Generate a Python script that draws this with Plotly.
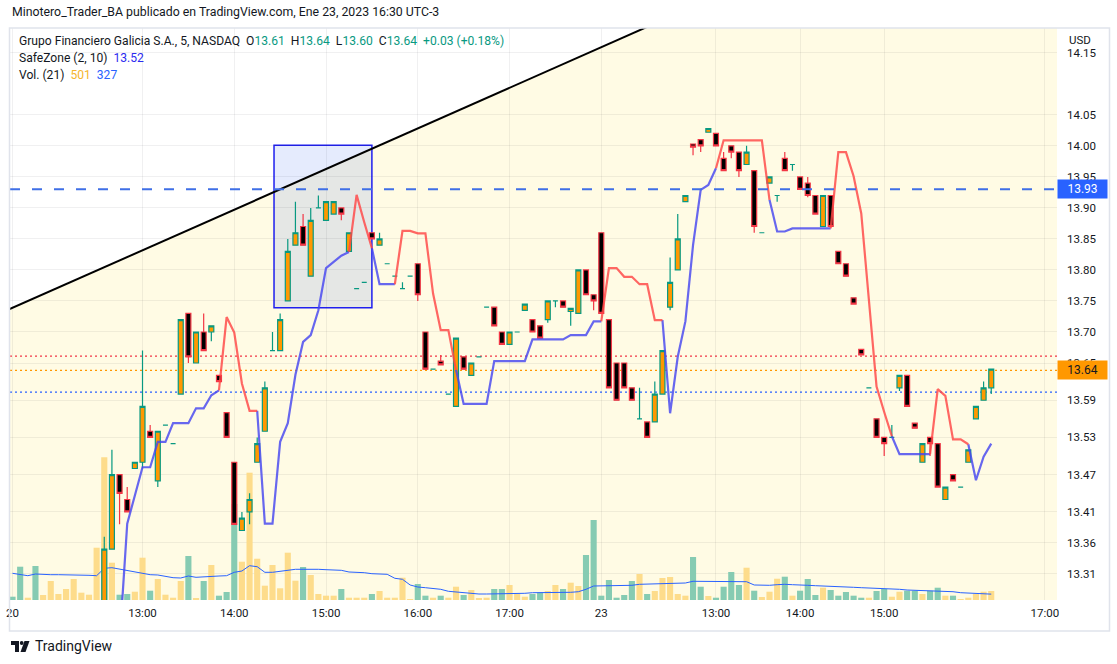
import plotly.graph_objects as go

# ---------------- data ----------------
bar_index = list(range(129))

opens = [13.20, 13.18, 13.15, 13.16, 13.13, 13.14, 13.16, 13.17, 13.18, 13.20,
         13.21, 13.21, 13.23, 13.35, 13.47, 13.43, 13.48, 13.49, 13.54, 13.46,
         13.55, 13.52, 13.60, 13.73, 13.65, 13.70, 13.70, 13.63, 13.57, 13.49,
         13.38, 13.41, 13.49, 13.54, 13.67, 13.67, 13.75, 13.84, 13.87, 13.79,
         13.90, 13.88, 13.89, 13.90, 13.83, 13.77, 13.78, 13.86, 13.84, 13.81,
         13.79, 13.77, 13.79, 13.81, 13.70, 13.64, 13.653, 13.60, 13.58, 13.66,
         13.63, 13.66, 13.74, 13.74, 13.70, 13.68, 13.70, 13.735, 13.72, 13.71,
         13.72, 13.75, 13.75, 13.733, 13.73, 13.80, 13.76, 13.86, 13.72, 13.65,
         13.65, 13.61, 13.56, 13.555, 13.555, 13.60, 13.74, 13.80, 13.91, 14.003,
         14.01, 14.022, 14.02, 13.98, 14.00, 13.99, 13.97, 13.96, 13.86, 13.94,
         13.92, 13.98, 13.97, 13.95, 13.94, 13.92, 13.87, 13.92, 13.83, 13.81,
         13.755, 13.672, 13.61, 13.56, 13.53, 13.53, 13.61, 13.63, 13.553, 13.49,
         13.53, 13.52, 13.43, 13.47, 13.45, 13.49, 13.56, 13.59, 13.61]
highs = [13.21, 13.19, 13.16, 13.16, 13.14, 13.17, 13.17, 13.18, 13.21, 13.21,
         13.21, 13.24, 13.37, 13.51, 13.47, 13.45, 13.49, 13.67, 13.55, 13.54,
         13.55, 13.52, 13.72, 13.73, 13.70, 13.73, 13.71, 13.63, 13.57, 13.49,
         13.41, 13.44, 13.53, 13.62, 13.70, 13.73, 13.85, 13.91, 13.89, 13.90,
         13.92, 13.91, 13.91, 13.90, 13.86, 13.77, 13.78, 13.86, 13.86, 13.81,
         13.79, 13.78, 13.79, 13.81, 13.70, 13.64, 13.663, 13.60, 13.69, 13.66,
         13.65, 13.66, 13.74, 13.74, 13.70, 13.70, 13.70, 13.745, 13.72, 13.71,
         13.75, 13.75, 13.75, 13.738, 13.80, 13.80, 13.76, 13.86, 13.72, 13.65,
         13.65, 13.61, 13.61, 13.555, 13.62, 13.67, 13.82, 13.89, 13.92, 14.003,
         14.01, 14.028, 14.02, 13.99, 14.00, 13.99, 14.00, 13.96, 13.86, 13.95,
         13.92, 13.99, 13.97, 13.95, 13.95, 13.92, 13.92, 13.92, 13.83, 13.81,
         13.755, 13.672, 13.61, 13.56, 13.53, 13.55, 13.63, 13.63, 13.553, 13.52,
         13.53, 13.52, 13.45, 13.47, 13.45, 13.51, 13.58, 13.62, 13.64]
lows = [13.17, 13.14, 13.15, 13.12, 13.13, 13.14, 13.16, 13.16, 13.18, 13.20,
        13.20, 13.20, 13.22, 13.35, 13.39, 13.41, 13.48, 13.48, 13.53, 13.45,
        13.55, 13.52, 13.60, 13.65, 13.65, 13.67, 13.685, 13.62, 13.53, 13.39,
        13.38, 13.39, 13.49, 13.54, 13.67, 13.67, 13.75, 13.84, 13.84, 13.79,
        13.90, 13.88, 13.89, 13.88, 13.83, 13.77, 13.78, 13.85, 13.84, 13.81,
        13.79, 13.77, 13.79, 13.75, 13.64, 13.64, 13.647, 13.60, 13.58, 13.64,
        13.63, 13.66, 13.74, 13.71, 13.68, 13.68, 13.70, 13.735, 13.70, 13.69,
        13.715, 13.74, 13.74, 13.71, 13.73, 13.76, 13.735, 13.73, 13.61, 13.59,
        13.61, 13.59, 13.56, 13.53, 13.555, 13.60, 13.735, 13.80, 13.91, 13.985,
        13.99, 14.022, 14.00, 13.96, 13.98, 13.95, 13.97, 13.86, 13.86, 13.94,
        13.91, 13.96, 13.96, 13.93, 13.917, 13.89, 13.87, 13.87, 13.81, 13.79,
        13.745, 13.663, 13.61, 13.53, 13.50, 13.53, 13.605, 13.58, 13.545, 13.49,
        13.50, 13.45, 13.43, 13.46, 13.45, 13.49, 13.56, 13.59, 13.60]
closes = [13.18, 13.15, 13.16, 13.13, 13.14, 13.16, 13.17, 13.18, 13.20, 13.21,
          13.21, 13.23, 13.35, 13.47, 13.44, 13.41, 13.49, 13.58, 13.53, 13.54,
          13.55, 13.52, 13.72, 13.66, 13.70, 13.67, 13.71, 13.62, 13.53, 13.39,
          13.40, 13.43, 13.52, 13.61, 13.67, 13.72, 13.83, 13.86, 13.84, 13.88,
          13.90, 13.91, 13.91, 13.89, 13.86, 13.77, 13.78, 13.85, 13.85, 13.81,
          13.79, 13.77, 13.79, 13.76, 13.64, 13.64, 13.647, 13.60, 13.69, 13.64,
          13.65, 13.66, 13.74, 13.71, 13.68, 13.70, 13.70, 13.745, 13.70, 13.69,
          13.75, 13.75, 13.74, 13.738, 13.80, 13.76, 13.75, 13.73, 13.61, 13.59,
          13.61, 13.59, 13.56, 13.53, 13.60, 13.67, 13.78, 13.85, 13.92, 13.998,
          14.00, 14.028, 14.00, 13.96, 13.99, 13.96, 13.99, 13.87, 13.86, 13.95,
          13.92, 13.96, 13.97, 13.93, 13.92, 13.89, 13.92, 13.87, 13.81, 13.79,
          13.745, 13.663, 13.61, 13.53, 13.52, 13.53, 13.63, 13.58, 13.545, 13.52,
          13.52, 13.45, 13.45, 13.46, 13.45, 13.51, 13.58, 13.61, 13.64]

volumes = [184, 1855, 128, 1894, 279, 1058, 334, 613, 1170, 407,
           295, 2913, 7948, 2078, 295, 334, 462, 2356, 518, 1170,
           295, 128, 1058, 2451, 56, 1058, 1950, 240, 446, 5347,
           2133, 7091, 2300, 797, 1950, 652, 2635, 1075, 1838, 1393,
           334, 240, 240, 613, 128, 128, 128, 334, 501, 128,
           128, 1242, 17, 891, 240, 128, 240, 128, 741, 279,
           557, 56, 128, 613, 613, 836, 334, 184, 334, 407,
           501, 836, 613, 964, 780, 2507, 4456, 240, 1114, 128,
           279, 1058, 1448, 334, 501, 1225, 1281, 334, 240, 2395,
           741, 223, 128, 741, 1560, 836, 1799, 518, 167, 462,
           1186, 1298, 240, 518, 1170, 279, 685, 557, 240, 446,
           240, 128, 128, 501, 613, 184, 462, 518, 518, 334,
           518, 685, 240, 240, 17, 128, 334, 462, 501]

volume_ma = [1487, 1431, 1354, 1448, 1409, 1409, 1409, 1409, 1409, 1409,
             1376, 1354, 1766, 1799, 1727, 1632, 1576, 1487, 1409, 1393,
             1298, 1242, 1225, 1337, 1264, 1298, 1337, 1337, 1354, 1543,
             1615, 1911, 1855, 1543, 1543, 1599, 1688, 1710, 1710, 1727,
             1710, 1688, 1688, 1654, 1560, 1543, 1521, 1465, 1431, 1431,
             1209, 1153, 836, 724, 685, 629, 596, 485, 446, 390,
             351, 334, 334, 334, 334, 334, 334, 373, 407, 407,
             407, 407, 429, 429, 462, 596, 780, 780, 797, 797,
             797, 819, 874, 891, 891, 908, 930, 930, 947, 1042,
             1042, 1003, 1003, 1019, 1019, 1019, 1019, 836, 819, 819,
             852, 874, 852, 819, 819, 797, 780, 780, 780, 741,
             707, 685, 668, 668, 652, 629, 596, 557, 540, 518,
             501, 501, 485, 462, 407, 390, 373, 351, 327]

safezone = [13.08, 13.08, 13.09, 13.09, 13.09, 13.10, 13.10, 13.10, 13.11, 13.11,
            13.11, 13.12, 13.12, 13.15, 13.20, 13.391, 13.437, 13.482, 13.482, 13.523,
            13.523, 13.553, 13.553, 13.553, 13.577, 13.577, 13.598, 13.606, 13.724, 13.699,
            13.617, 13.573, 13.573, 13.391, 13.391, 13.523, 13.553, 13.631, 13.684, 13.695,
            13.735, 13.803, 13.813, 13.823, 13.829, 13.921, 13.877, 13.835, 13.777, 13.777,
            13.777, 13.863, 13.863, 13.859, 13.859, 13.762, 13.703, 13.703, 13.639, 13.584,
            13.584, 13.584, 13.584, 13.653, 13.653, 13.653, 13.653, 13.653, 13.688, 13.688,
            13.688, 13.688, 13.688, 13.695, 13.695, 13.695, 13.717, 13.717, 13.803, 13.803,
            13.789, 13.789, 13.777, 13.777, 13.719, 13.719, 13.569, 13.660, 13.717, 13.840,
            13.929, 13.937, 13.964, 14.009, 14.009, 14.009, 14.009, 14.009, 14.009, 13.913,
            13.862, 13.862, 13.867, 13.867, 13.867, 13.867, 13.867, 13.867, 13.990, 13.990,
            13.951, 13.891, 13.752, 13.612, 13.571, 13.532, 13.503, 13.503, 13.503, 13.503,
            13.503, 13.608, 13.597, 13.527, 13.527, 13.519, 13.461, 13.499, 13.520]
# b = long stop (blue), r = short stop (red)
safezone_side = ("bbbbbbbbbbbbbbbbbbbbbbbbbbbb" "rrrrr" "bbbbbbbbbbbb" "rrr" "bbb"
                 "rrrrrrrr" "bbbbbbbbbbbbbbbbbbb" "rrrrrrrr" "bbbbbbb" "rrrrrrr"
                 "bbbbbbbb" "rrrrrrrr" "bbbbb" "rrrrr" "bbb")

tick_positions = [0, 17, 29, 41, 53, 65, 77, 92, 103, 114, 135]
tick_labels = ["20", "13:00", "14:00", "15:00", "16:00", "17:00", "23",
               "13:00", "14:00", "15:00", "17:00"]
price_ticks = [14.15, 14.05, 14.00, 13.95, 13.90, 13.85, 13.80, 13.75, 13.70,
               13.65, 13.59, 13.53, 13.47, 13.41, 13.36, 13.31]

trend_x = [-2, 90]
trend_y = [13.728, 14.230]
box_x = [34.2, 47.0]
box_y = [13.739, 14.001]
level_dashed = 13.93
level_red = 13.661
level_last = 13.638
level_blue = 13.603

x_range = [-0.33, 136.6]
price_range = [13.268, 14.19]
volume_range = [0, 31860]

# ---------------- styling ----------------
FONT = "Roboto, 'Noto Sans', sans-serif"
TXT = "#131722"
UP_BODY, UP_EDGE = "#ff9800", "#089981"
DN_BODY, DN_EDGE = "#000000", "#f23645"
VOL_UP, VOL_DN = "#fddc8b", "#86cbb2"
BG_YELLOW = "#fffbe4"
GRID = "rgba(42,46,57,0.07)"

FIG_W, FIG_H = 1117, 664

is_up = [c >= o for o, c in zip(opens, closes)]
up_idx = [i for i in bar_index if is_up[i]]
dn_idx = [i for i in bar_index if not is_up[i]]


def pick(arr, idx):
    return [arr[i] for i in idx]


fig = go.Figure()

# volume (main hidden axis, drawn first / underneath)
fig.add_trace(go.Bar(
    x=bar_index, y=volumes, width=0.8,
    marker=dict(color=[VOL_UP if u else VOL_DN for u in is_up], line=dict(width=0)),
    yaxis="y", hoverinfo="skip"))
fig.add_trace(go.Scatter(
    x=bar_index, y=volume_ma, mode="lines",
    line=dict(color="#2962ff", width=1), yaxis="y", hoverinfo="skip"))

# candles (price axis y2)
for idx, body, edge in ((up_idx, UP_BODY, UP_EDGE), (dn_idx, DN_BODY, DN_EDGE)):
    style = dict(fillcolor=body, line=dict(color=edge, width=1.2))
    fig.add_trace(go.Candlestick(
        x=idx, open=pick(opens, idx), high=pick(highs, idx),
        low=pick(lows, idx), close=pick(closes, idx),
        increasing=style, decreasing=style, whiskerwidth=0,
        xaxis="x", yaxis="y2", hoverinfo="skip"))


# SafeZone line split by side
def side_path(side):
    xs, ys = [], []
    for i in range(1, len(safezone)):
        if safezone_side[i] == side:
            if safezone_side[i - 1] != side or not xs:
                if xs:
                    xs.append(None)
                    ys.append(None)
                xs.append(bar_index[i - 1])
                ys.append(safezone[i - 1])
            xs.append(bar_index[i])
            ys.append(safezone[i])
    return xs, ys


for side, col in (("b", "rgba(70,70,240,0.82)"), ("r", "rgba(255,70,70,0.82)")):
    sx, sy = side_path(side)
    fig.add_trace(go.Scatter(x=sx, y=sy, mode="lines", connectgaps=False,
                             line=dict(color=col, width=2.2), yaxis="y2", hoverinfo="skip"))

# trend line
fig.add_trace(go.Scatter(x=trend_x, y=trend_y, mode="lines",
                         line=dict(color="#000000", width=2), yaxis="y2", hoverinfo="skip"))


def px_x(X):
    return (X - 10) / 1047


def px_y(Y):
    return (600 - Y) / 572


shapes = [
    # white area above the trend line
    dict(type="path", xref="x", yref="y2", layer="below",
         path=f"M {trend_x[0]},{trend_y[0]} L {trend_x[1]},{trend_y[1]} L {trend_x[0]},{trend_y[1]} Z",
         fillcolor="#ffffff", line=dict(width=0)),
    # rectangle drawing
    dict(type="rect", xref="x", yref="y2", layer="below",
         x0=box_x[0], x1=box_x[1], y0=box_y[0], y1=box_y[1],
         fillcolor="rgba(40,90,240,0.12)", line=dict(color="#1f1fef", width=1.5)),
    # dotted level lines
    dict(type="line", xref="paper", yref="y2", x0=0, x1=1, y0=level_red, y1=level_red,
         layer="below", line=dict(color="#f23645", width=1.2, dash="2px,3px")),
    dict(type="line", xref="paper", yref="y2", x0=0, x1=1, y0=level_last, y1=level_last,
         layer="below", line=dict(color="#ff9800", width=1.2, dash="2px,3px")),
    dict(type="line", xref="paper", yref="y2", x0=0, x1=1, y0=level_blue, y1=level_blue,
         layer="below", line=dict(color="#2962ff", width=1.2, dash="2px,3px")),
    # dashed horizontal drawing
    dict(type="line", xref="paper", yref="y2", x0=0, x1=1, y0=level_dashed, y1=level_dashed,
         layer="above", line=dict(color="#3f6fe6", width=2, dash="10px,12px")),
    # chart container border
    dict(type="rect", xref="paper", yref="paper", x0=px_x(9.5), x1=px_x(1109.5),
         y0=px_y(631), y1=px_y(28), line=dict(color="#e0e3eb", width=1.5), layer="above"),
    # TradingView logo
    dict(type="rect", xref="paper", yref="paper", x0=px_x(11), x1=px_x(19), y0=px_y(645), y1=px_y(641),
         fillcolor=TXT, line=dict(width=0), layer="above"),
    dict(type="rect", xref="paper", yref="paper", x0=px_x(15), x1=px_x(19), y0=px_y(652), y1=px_y(641),
         fillcolor=TXT, line=dict(width=0), layer="above"),
    dict(type="circle", xref="paper", yref="paper", x0=px_x(19.8), x1=px_x(23.6), y0=px_y(645), y1=px_y(641),
         fillcolor=TXT, line=dict(width=0), layer="above"),
    dict(type="path", xref="paper", yref="paper", layer="above",
         path=f"M {px_x(24.5)},{px_y(641)} L {px_x(29.5)},{px_y(641)} L {px_x(25.5)},{px_y(652)} L {px_x(20.5)},{px_y(652)} Z",
         fillcolor=TXT, line=dict(width=0)),
]

G = "#089981"
NB = "\u00a0"
legend1 = (f"Grupo Financiero Galicia S.A., 5, NASDAQ{NB}{NB}"
           f"O<span style='color:{G}'>13.61</span>{NB}{NB}"
           f"H<span style='color:{G}'>13.64</span>{NB}{NB}"
           f"L<span style='color:{G}'>13.60</span>{NB}{NB}"
           f"C<span style='color:{G}'>13.64</span>{NB}{NB}"
           f"<span style='color:{G}'>+0.03 (+0.18%)</span>")
legend2 = f"SafeZone (2, 10){NB}{NB}<span style='color:#2b2bf0'>13.52</span>"
legend3 = f"Vol. (21){NB}{NB}<span style='color:#f5b52e'>501</span>{NB}{NB}<span style='color:#2962ff'>327</span>"

annotations = [
    dict(xref="paper", yref="paper", x=px_x(10), y=px_y(12), xanchor="left", yanchor="middle",
         text="Minotero_Trader_BA publicado en TradingView.com, Ene 23, 2023 16:30 UTC-3",
         showarrow=False, font=dict(family=FONT, size=12.3, color=TXT)),
    dict(xref="paper", yref="paper", x=px_x(17), y=px_y(41), xanchor="left", yanchor="middle",
         text=legend1, showarrow=False, font=dict(family=FONT, size=12.1, color=TXT)),
    dict(xref="paper", yref="paper", x=px_x(17), y=px_y(58), xanchor="left", yanchor="middle",
         text=legend2, showarrow=False, font=dict(family=FONT, size=12.1, color=TXT)),
    dict(xref="paper", yref="paper", x=px_x(17), y=px_y(75), xanchor="left", yanchor="middle",
         text=legend3, showarrow=False, font=dict(family=FONT, size=12.1, color=TXT)),
    dict(xref="paper", yref="paper", x=px_x(1067), y=px_y(40), xanchor="left", yanchor="middle",
         text="USD", showarrow=False, font=dict(family=FONT, size=11.5, color=TXT)),
    dict(xref="paper", yref="y2", x=1, y=level_dashed, xanchor="left", yanchor="middle",
         text=f"{level_dashed:.2f}", showarrow=False, bgcolor="#2962ff", width=45, height=14,
         borderpad=2, font=dict(family=FONT, size=12, color="#ffffff")),
    dict(xref="paper", yref="y2", x=1, y=level_last, xanchor="left", yanchor="middle",
         text=f"{level_last:.2f}", showarrow=False, bgcolor="#ff9800", width=45, height=14,
         borderpad=2, font=dict(family=FONT, size=12, color=TXT)),
    dict(xref="paper", yref="paper", x=px_x(33), y=px_y(646), xanchor="left", yanchor="middle",
         text="TradingView", showarrow=False, font=dict(family=FONT, size=14, color=TXT)),
]

fig.update_layout(
    width=FIG_W, height=FIG_H,
    margin=dict(l=10, r=60, t=28, b=64, autoexpand=False),
    paper_bgcolor="#ffffff", plot_bgcolor=BG_YELLOW,
    showlegend=False, hovermode=False, dragmode=False,
    boxgap=0.35, boxgroupgap=0,
    font=dict(family=FONT, color=TXT),
    xaxis=dict(range=x_range, tickmode="array", tickvals=tick_positions, ticktext=tick_labels,
               showgrid=True, gridcolor=GRID, gridwidth=1, zeroline=False, showline=False,
               ticks="", tickfont=dict(family=FONT, size=11.5, color=TXT), automargin=False,
               ticklabeloverflow="allow", ticklabelstandoff=4,
               rangeslider=dict(visible=False), fixedrange=True),
    yaxis=dict(range=volume_range, visible=False, showgrid=False, fixedrange=True, automargin=False),
    yaxis2=dict(range=price_range, overlaying="y", side="right", anchor="x",
                tickmode="array", tickvals=price_ticks, ticktext=[f"{v:.2f}" for v in price_ticks],
                showgrid=True, gridcolor=GRID, gridwidth=1, zeroline=False, showline=False,
                ticks="", ticklabelstandoff=9, tickfont=dict(family=FONT, size=11.5, color=TXT),
                fixedrange=True, automargin=False),
    shapes=shapes, annotations=annotations,
)

# remove the browser's default page margin so the figure sits at the window origin
fig.write_html("out.html", config={"displayModeBar": False},
               post_script="document.body.style.margin='0';")
